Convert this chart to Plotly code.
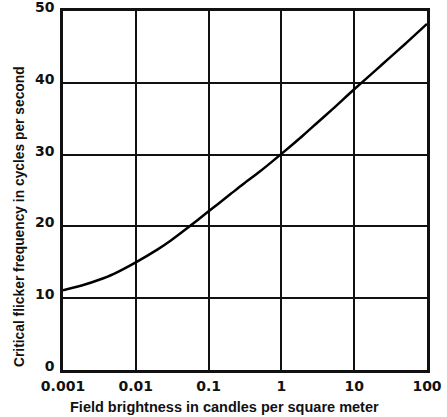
import plotly.graph_objects as go

brightness = [0.001, 0.002, 0.003, 0.005, 0.01, 0.02, 0.03, 0.05, 0.1, 0.2, 0.3, 0.5, 1, 2, 3, 5, 10, 20, 30, 50, 100]
cff = [11.1, 11.9, 12.5, 13.4, 15.0, 16.8, 18.0, 19.7, 22.1, 24.5, 25.9, 27.6, 30.1, 32.7, 34.3, 36.3, 39.1, 41.8, 43.4, 45.4, 48.2]

x_ticks = [0.001, 0.01, 0.1, 1, 10, 100]
x_labels = ["0.001", "0.01", "0.1", "1", "10", "100"]
y_ticks = [0, 10, 20, 30, 40, 50]

x_title = "Field brightness in candles per square meter"
y_title = "Critical flicker frequency in cycles per second"

L, R, T, B = 63, 20, 11, 47
W, H = 447, 417
pw, ph = W - L - R, H - T - B

fig = go.Figure()
fig.add_trace(go.Scatter(x=brightness, y=cff, mode="lines",
                         line=dict(color="black", width=2.5, shape="spline", smoothing=0.8),
                         showlegend=False, hoverinfo="skip"))

tick_font = dict(size=14, family="DejaVu Sans", weight="bold", color="#111")
title_font = dict(size=14, family="Liberation Sans", weight="bold", color="#111")
fig.update_layout(
    width=W, height=H,
    margin=dict(l=L, r=R, t=T, b=B),
    paper_bgcolor="white", plot_bgcolor="white",
    font=dict(family="DejaVu Sans", color="#111"),
    xaxis=dict(type="log", range=[-3, 2], tickvals=x_ticks, ticktext=x_labels,
               showgrid=True, gridcolor="#111", gridwidth=2,
               showline=True, linecolor="#111", linewidth=2.5, mirror=True,
               ticks="", tickfont=tick_font, ticklabelstandoff=1, ticklabeloverflow="allow",
               automargin=False, zeroline=False),
    yaxis=dict(range=[0, 50], tickvals=y_ticks,
               showgrid=True, gridcolor="#111", gridwidth=2,
               showline=True, linecolor="#111", linewidth=2.5, mirror=True,
               ticks="", tickfont=tick_font, ticklabelstandoff=3, ticklabelshift=-4,
               ticklabeloverflow="allow",
               automargin=False, zeroline=False),
    annotations=[
        dict(text=x_title, xref="paper", yref="paper",
             x=(224 - L) / pw, y=(H - B - 407) / ph, showarrow=False,
             xanchor="center", yanchor="middle", font=dict(title_font, size=14.5)),
        dict(text=y_title, xref="paper", yref="paper", textangle=-90,
             x=(19 - L) / pw, y=(H - B - 217) / ph, showarrow=False,
             xanchor="center", yanchor="middle", font=dict(title_font, size=13.8)),
    ],
)
fig.write_html("out.html", config={"displayModeBar": False},
               post_script="document.body.style.margin='0';document.body.style.padding='0';")
